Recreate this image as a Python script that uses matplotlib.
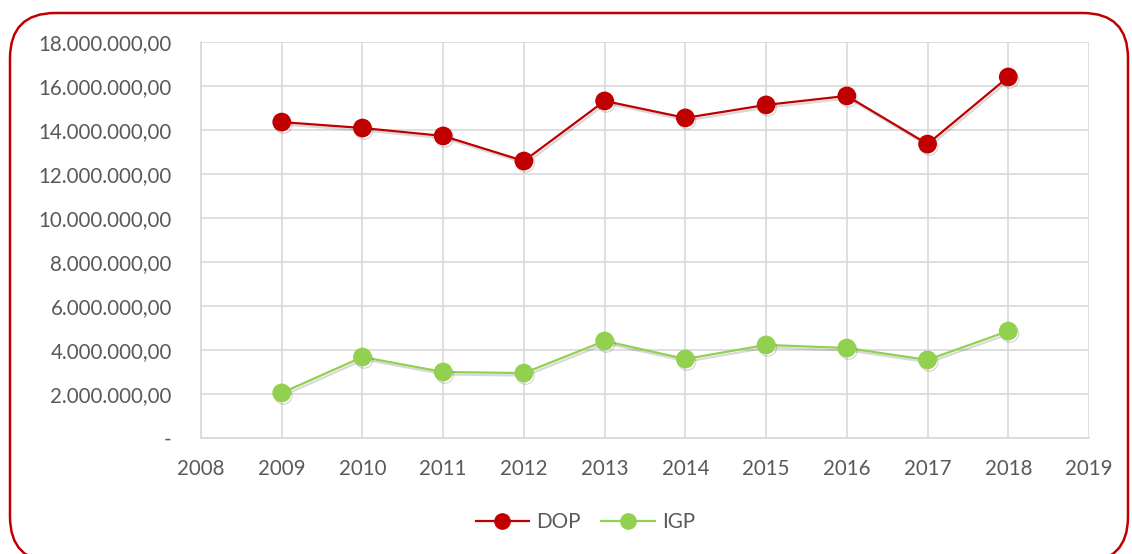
#!/usr/bin/env python3
"""DOP vs IGP by year, line chart with a rounded red frame."""

import matplotlib
matplotlib.use('Agg')
import matplotlib.pyplot as plt
import matplotlib.patheffects as pe
from matplotlib.patches import FancyBboxPatch
from matplotlib.ticker import FuncFormatter, MultipleLocator

years = [2009, 2010, 2011, 2012, 2013, 2014, 2015, 2016, 2017, 2018]
dop = [14360000, 14090000, 13730000, 12590000, 15320000,
       14550000, 15140000, 15550000, 13360000, 16410000]
igp = [2050000, 3680000, 3000000, 2950000, 4410000,
       3590000, 4230000, 4090000, 3550000, 4860000]

RED = '#C00000'
GREEN = '#92D050'
GRID = '#D9D9D9'
TEXT = '#595959'

plt.rcParams['font.family'] = ['Lato', 'DejaVu Sans']


def fmt_money(v, pos):
    if v == 0:
        return '-'
    s = f'{v:,.2f}'
    return s.replace(',', 'X').replace('.', ',').replace('X', '.')


fig = plt.figure(figsize=(11.32, 5.54), dpi=100)
ax = fig.add_axes([201 / 1132, 1 - 438 / 554, 888 / 1132, 396 / 554])

shadow = [pe.SimpleLineShadow(offset=(1.2, -1.8), alpha=0.15, shadow_color='black'),
          pe.Normal()]

ax.plot(years, dop, color=RED, linewidth=1.6, marker='o', markersize=12.5,
        markerfacecolor=RED, markeredgecolor=RED, label='DOP', path_effects=shadow, zorder=3)
ax.plot(years, igp, color=GREEN, linewidth=1.6, marker='o', markersize=12.5,
        markerfacecolor=GREEN, markeredgecolor=GREEN, label='IGP', path_effects=shadow, zorder=3)

ax.set_xlim(2008, 2019)
ax.set_ylim(0, 18000000)
ax.xaxis.set_major_locator(MultipleLocator(1))
ax.yaxis.set_major_locator(MultipleLocator(2000000))
ax.yaxis.set_major_formatter(FuncFormatter(fmt_money))

ax.grid(True, color=GRID, linewidth=1.2)
ax.set_axisbelow(True)
for side in ['top', 'right']:
    ax.spines[side].set_visible(False)
for side in ['left', 'bottom']:
    ax.spines[side].set_color(GRID)
    ax.spines[side].set_linewidth(1.2)
ax.tick_params(length=0, colors=TEXT, labelsize=14.8)
ax.tick_params(axis='y', pad=21)
ax.tick_params(axis='x', pad=15)

leg = fig.legend(loc='center', bbox_to_anchor=(0.517, 1 - 522 / 554), ncol=2,
                 frameon=False, fontsize=14.8, handlelength=2.6, columnspacing=1.0,
                 handletextpad=0.35)
for t in leg.get_texts():
    t.set_color(TEXT)
for h in leg.legend_handles:
    h.set_markersize(11)
    h.set_path_effects([])

frame = FancyBboxPatch((10 / 1132, -8 / 554), 1118 / 1132, 1 - 5 / 554,
                       boxstyle='round,pad=0,rounding_size=0.04',
                       transform=fig.transFigure, facecolor='none',
                       edgecolor=RED, linewidth=1.8, mutation_aspect=1132 / 554)
fig.patches.append(frame)

fig.savefig('out.png', dpi=100)
